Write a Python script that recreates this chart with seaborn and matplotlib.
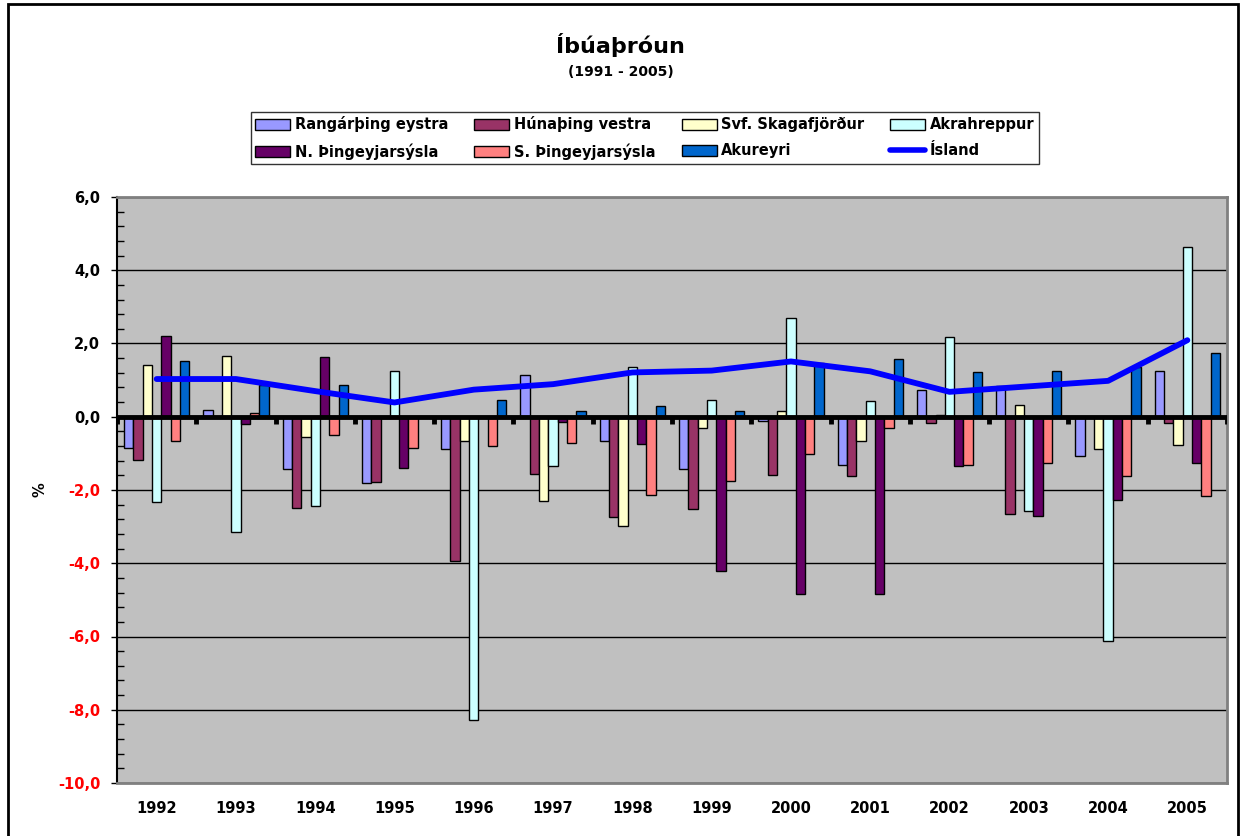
#!/usr/bin/env python3
"""Íbúaþróun 1991-2005: yearly population change (%) per area, with Ísland as a line."""
import numpy as np
import pandas as pd
import matplotlib
matplotlib.use('Agg')
import matplotlib.pyplot as plt
from matplotlib.patches import Patch, Rectangle
from matplotlib.lines import Line2D
from matplotlib.ticker import MultipleLocator, FuncFormatter
import seaborn as sns

years = ['1992', '1993', '1994', '1995', '1996', '1997', '1998',
         '1999', '2000', '2001', '2002', '2003', '2004', '2005']

rangarthing = [-0.84, 0.18, -1.43, -1.80, -0.88, 1.13, -0.65, -1.43, -0.12, -1.33, 0.73, 0.85, -1.08, 1.26]
hunathing = [-1.17, 0.00, -2.48, -1.78, -3.95, -1.57, -2.75, -2.51, -1.60, -1.63, -0.17, -2.66, 0.00, -0.16]
skagafjordur = [1.40, 1.66, -0.55, -0.04, -0.67, -2.29, -2.97, -0.31, 0.15, -0.67, 0.05, 0.31, -0.88, -0.76]
akrahreppur = [-2.32, -3.16, -2.45, 1.26, -8.27, -1.35, 1.37, 0.45, 2.69, 0.43, 2.17, -2.56, -6.13, 4.64]
n_thing = [2.21, -0.20, 1.62, -1.39, 0.00, -0.13, -0.75, -4.22, -4.83, -4.85, -1.34, -2.70, -2.28, -1.26]
s_thing = [-0.65, 0.09, -0.49, -0.86, -0.80, -0.72, -2.15, -1.75, -1.02, -0.30, -1.31, -1.25, -1.61, -2.17]
akureyri = [1.52, 0.86, 0.86, 0.00, 0.47, 0.17, 0.29, 0.15, 1.47, 1.58, 1.22, 1.26, 1.37, 1.73]
island = [1.03, 1.03, 0.70, 0.39, 0.74, 0.89, 1.21, 1.26, 1.51, 1.24, 0.68, 0.83, 0.98, 2.09]

series_names = ['Rangárþing eystra', 'Húnaþing vestra', 'Svf. Skagafjörður', 'Akrahreppur',
                'N. Þingeyjarsýsla', 'S. Þingeyjarsýsla', 'Akureyri']
series_values = [rangarthing, hunathing, skagafjordur, akrahreppur, n_thing, s_thing, akureyri]
colors = ['#9999FF', '#993366', '#FFFFCC', '#CCFFFF', '#660066', '#FF8080', '#0066CC']
line_name = 'Ísland'
line_color = '#0000FF'

df = pd.DataFrame({
    'year': np.tile(years, len(series_names)),
    'series': np.repeat(series_names, len(years)),
    'value': np.concatenate(series_values),
})

sns.set_theme(style='white')
plt.rcParams['font.family'] = ['DejaVu Sans']
plt.rcParams['font.weight'] = 'bold'
plt.rcParams['text.color'] = 'black'
plt.rcParams['axes.labelcolor'] = 'black'
plt.rcParams['xtick.color'] = 'black'
plt.rcParams['ytick.color'] = 'black'

W, H = 1241, 836
fig = plt.figure(figsize=(W / 100, H / 100), dpi=100)
ax = fig.add_axes([117 / W, 1 - 783 / H, (1227 - 117) / W, (783 - 197) / H])
ax.set_facecolor('#C0C0C0')

sns.barplot(data=df, x='year', y='value', hue='series', hue_order=series_names,
            palette=dict(zip(series_names, colors)), order=years, width=0.824,
            edgecolor='black', linewidth=1, legend=False, errorbar=None, ax=ax,
            saturation=1)

ax.set_ylim(-10, 6)
ax.set_xlim(-0.5, len(years) - 0.5)

# gridlines
ax.yaxis.set_major_locator(MultipleLocator(2))
ax.yaxis.set_minor_locator(MultipleLocator(0.4))
ax.grid(axis='y', which='major', color='black', linewidth=1)
ax.set_axisbelow(True)

# zero line acting as category axis, with boundary ticks
ax.axhline(0, color='black', linewidth=3.5, zorder=4)
bounds = np.arange(len(years) + 1) - 0.5
ax.vlines(bounds, -0.2, 0, color='black', linewidth=3.5, zorder=4)

sns.lineplot(x=np.arange(len(years)), y=island, color=line_color, linewidth=4.2,
             ax=ax, zorder=5, legend=False)

ax.set_xticks(range(len(years)))
ax.set_xticklabels(years, fontsize=10.5, fontweight='bold', color='black')
ax.tick_params(axis='x', length=0, pad=13)

ax.yaxis.set_major_formatter(FuncFormatter(lambda v, _: f'{v:.1f}'.replace('.', ',')))
ax.tick_params(axis='y', which='major', direction='out', length=4, width=1, pad=8,
               labelsize=10.5, left=True, color='black')
ax.tick_params(axis='y', which='minor', direction='in', length=5, width=1, left=True, color='black')
for lab in ax.get_yticklabels():
    lab.set_fontweight('bold')
    try:
        v = float(lab.get_text().replace(',', '.').replace('\u2212', '-'))
    except ValueError:
        v = 0
    lab.set_color('red' if v < 0 else 'black')

ax.set_xlabel('')
ax.set_ylabel('')
fig.text(40 / W, 1 - 490 / H, '%', rotation=90, ha='center', va='center',
         fontsize=10.5, fontweight='bold', color='black')

for side in ['top', 'right', 'bottom']:
    ax.spines[side].set_color('#808080')
    ax.spines[side].set_linewidth(2)
    ax.spines[side].set_visible(True)
ax.spines['left'].set_color('black')
ax.spines['left'].set_linewidth(1.5)
ax.spines['left'].set_visible(True)

# titles
fig.text(0.5, 1 - 45 / H, 'Íbúaþróun', ha='center', va='center', fontsize=16,
         fontweight='bold', color='black')
fig.text(0.5, 1 - 72 / H, '(1991 - 2005)', ha='center', va='center', fontsize=10,
         fontweight='bold', color='black')

# legend (row-wise order with 4 columns)
handles = [Patch(facecolor=c, edgecolor='black', linewidth=1, label=n) for n, c in zip(series_names, colors)]
handles.append(Line2D([0], [0], color=line_color, linewidth=4, label=line_name))
order = [0, 4, 1, 5, 2, 6, 3, 7]
leg = fig.legend([handles[i] for i in order], [handles[i].get_label() for i in order],
                 loc='center left', bbox_to_anchor=(251 / W, 1 - 138 / H), ncol=4, frameon=True,
                 fancybox=False, edgecolor='black', fontsize=10.5, handlelength=2.4,
                 handleheight=0.8, handletextpad=0.3, columnspacing=1.8, labelspacing=0.75,
                 borderpad=0.3, borderaxespad=0)
leg.get_frame().set_linewidth(1)
for t in leg.get_texts():
    t.set_fontweight('bold')
    t.set_color('black')

# chart border
fig.add_artist(Rectangle((8 / W, -0.01), (1238 - 8) / W, 1.01 - 4 / H, transform=fig.transFigure,
                         fill=False, edgecolor='black', linewidth=2))

fig.savefig('out.png', dpi=100, facecolor='white')
